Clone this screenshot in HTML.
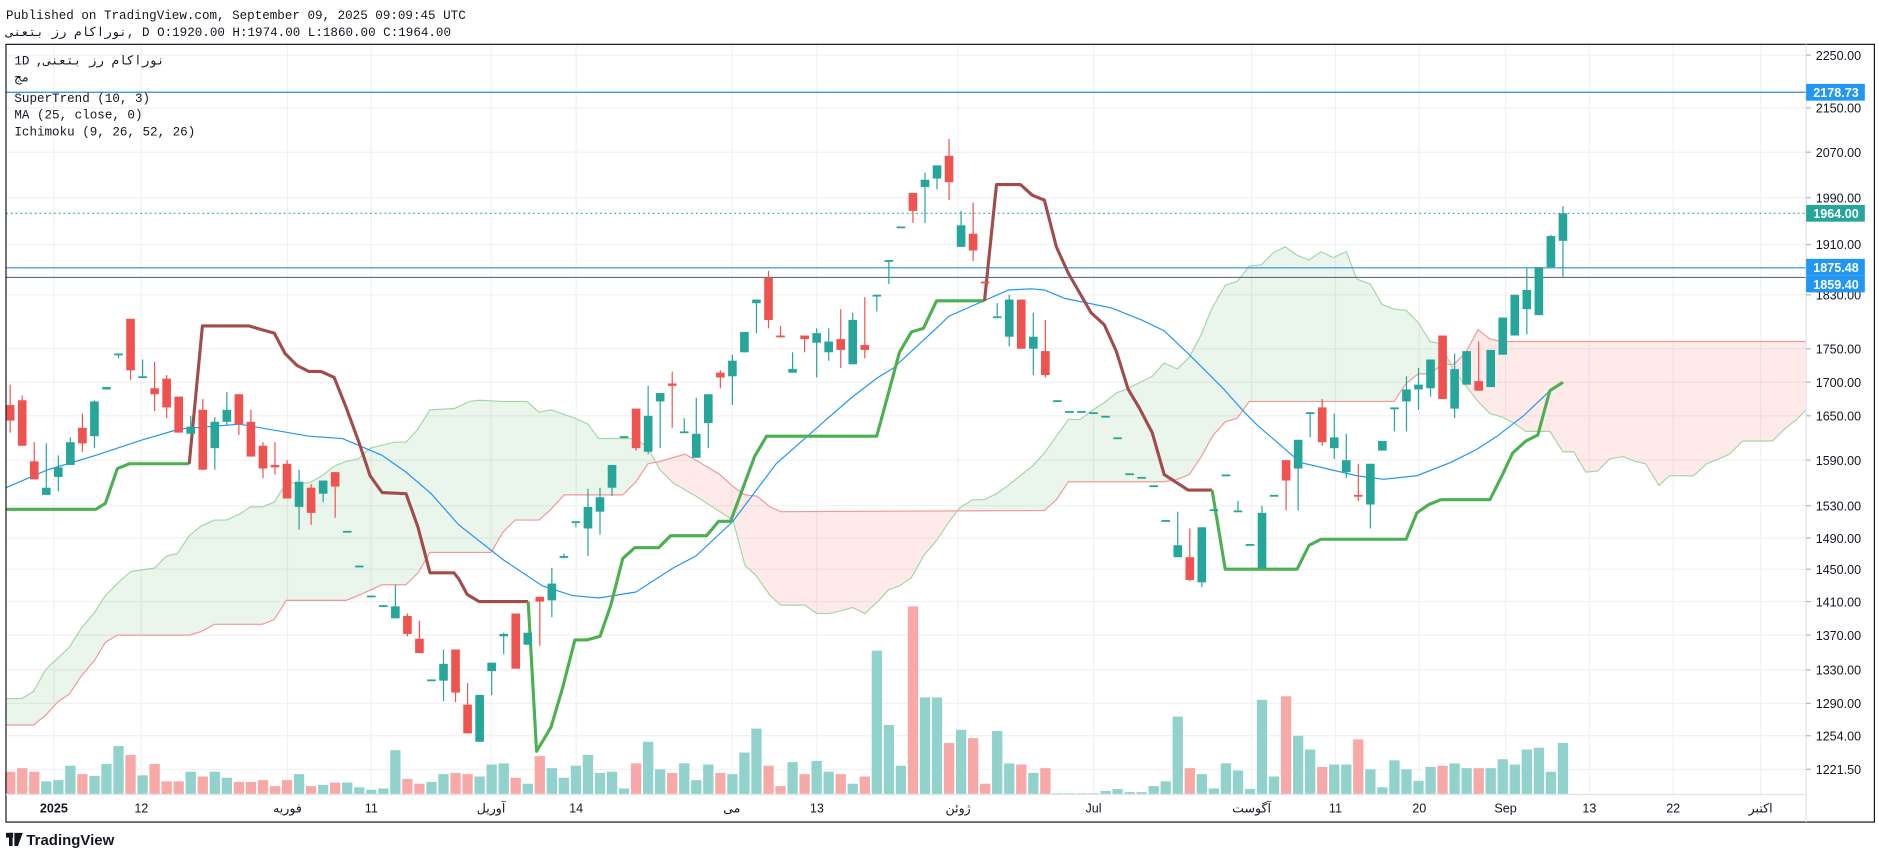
<!DOCTYPE html>
<html><head><meta charset="utf-8"><style>
html,body{margin:0;padding:0;background:#fff;width:1878px;height:858px;overflow:hidden}
svg{display:block}
.t{font-family:"Liberation Mono","DejaVu Sans Mono",monospace;font-size:10.5px;fill:#131722}
.ax{font-family:"Liberation Sans","DejaVu Sans",sans-serif;font-size:10.5px;fill:#131722}
.lb{font-family:"Liberation Sans","DejaVu Sans",sans-serif;font-size:10.5px;fill:#fff;font-weight:bold}
</style></head><body>
<svg id="s" width="1878" height="858" viewBox="0 0 1568 716" preserveAspectRatio="none" xmlns="http://www.w3.org/2000/svg">
<defs>
<clipPath id="above"><polygon points="5,605 28,605 38,597 48,586 58,579 68,564 79,551 88,536 98,530 158,530 168,527 179,521 219,521 229,517 239,501 289,501 299,497 319,488 339,488 349,478 359,461 410,461 420,444 430,434 450,434 460,425 471,413 520,413 531,402 541,387 551,385 572,379 581,384 601,396 612,406 622,413 632,414 643,423 652,427 872,426 882,417 892,402 972,402 983,400 993,396 1003,381 1013,363 1023,352 1033,349 1043,335 1164,335 1174,320 1184,312 1194,312 1204,304 1214,304 1224,294 1234,275 1244,283 1254,285 1508,285 1508,0 5,0"/></clipPath>
<clipPath id="below"><polygon points="5,605 28,605 38,597 48,586 58,579 68,564 79,551 88,536 98,530 158,530 168,527 179,521 219,521 229,517 239,501 289,501 299,497 319,488 339,488 349,478 359,461 410,461 420,444 430,434 450,434 460,425 471,413 520,413 531,402 541,387 551,385 572,379 581,384 601,396 612,406 622,413 632,414 643,423 652,427 872,426 882,417 892,402 972,402 983,400 993,396 1003,381 1013,363 1023,352 1033,349 1043,335 1164,335 1174,320 1184,312 1194,312 1204,304 1214,304 1224,294 1234,275 1244,283 1254,285 1508,285 1508,700 5,700"/></clipPath>
</defs>
<text class="t" x="5" y="16">Published on TradingView.com, September 09, 2025 09:09:45 UTC</text>
<text class="t" x="5" y="30">نوراکام رز بتعنی, D O:1920.00 H:1974.00 L:1860.00 C:1964.00</text>
<g id="grid" stroke="#f0f1f3" stroke-width="1"></g>
<g id="cloud"></g>
<g id="vol"></g>
<line x1="5" y1="77" x2="1508" y2="77" stroke="#2a8de0" stroke-width="1"/>
<line x1="5" y1="178" x2="1508" y2="178" stroke="#26a69a" stroke-width="1" stroke-dasharray="1.5,2.5"/>
<line x1="5" y1="223.5" x2="1508" y2="223.5" stroke="#2a8de0" stroke-width="1"/>
<line x1="5" y1="231.5" x2="1508" y2="231.5" stroke="#5a6f86" stroke-width="1"/>
<polyline fill="none" stroke="#2196f3" stroke-width="1" points="5,407 40,392 80,380 119,367 150,358 200,354 258,364 286,366 319,380 339,394 360,412 383,438 420,467 453,489 478,497 500,499 531,494 562,474 581,464 612,435 648,387 690,350 712,331 733,315 746,307 785,271 792,264 842,242 861,241 872,242 889,249 928,257 953,267 972,276 994,297 1022,325 1039,344 1050,355 1072,374 1086,386 1133,397 1155,400 1183,397 1211,386 1233,375 1250,364 1272,347 1292,328 1304,319"/>
<g fill="none" stroke-width="2.6" stroke-linejoin="round">
<polyline stroke="#4caf50" points="5,425 80,425 88,420 98,391 108,387 158,387"/>
<polyline stroke="#a04c4c" points="158,387 169,272 208,272 218,275 229,278 238,295 248,305 258,310 268,310 279,315 289,340 300,370 309,397 319,411 339,412 349,440 359,478 379,478 383,483 390,496 400,502 441,502"/>
<polyline stroke="#4caf50" points="441,502 448,627 460,607 470,573 480,534 490,534 501,531 510,505 520,466 530,457 550,457 560,447 590,447 600,435 610,435 620,408 630,381 640,364 732,364 741,331 751,294 761,277 771,274 782,251 822,251"/>
<polyline stroke="#a04c4c" points="822,251 832,154 852,154 862,163 872,167 882,206 892,228 911,261 922,271 932,293 942,325 951,340 962,361 972,396 992,409 1012,409"/>
<polyline stroke="#4caf50" points="1012,409 1023,475 1083,475 1093,455 1103,450 1174,450 1183,428 1193,421 1203,417 1244,417 1254,397 1263,378 1274,368 1284,363 1294,326 1305,319"/>
</g>
<g id="cdl"></g>
<rect x="5" y="37" width="1560" height="649" fill="none" stroke="#131722" stroke-width="1"/>
<line x1="1508" y1="37" x2="1508" y2="686" stroke="#e0e3eb"/>
<line x1="5" y1="663" x2="1508" y2="663" stroke="#e0e3eb"/>
<g id="yax"></g>
<rect x="1508" y="70" width="49" height="14" fill="#2196f3"/><text class="lb" x="1514" y="81">2178.73</text>
<rect x="1508" y="171" width="49" height="14" fill="#26a69a"/><text class="lb" x="1514" y="182">1964.00</text>
<rect x="1508" y="216" width="49" height="14" fill="#2196f3"/><text class="lb" x="1514" y="227">1875.48</text>
<rect x="1508" y="230" width="49" height="14" fill="#2196f3"/><text class="lb" x="1514" y="241">1859.40</text>
<g class="ax" text-anchor="middle">
<text x="45" y="678" font-weight="bold">2025</text><text x="118" y="678">12</text><text x="240" y="678">فوریه</text><text x="310" y="678">11</text><text x="410" y="678">آوریل</text><text x="481" y="678">14</text><text x="611" y="678">می</text><text x="682" y="678">13</text><text x="800" y="678">ژوئن</text><text x="913" y="678">Jul</text><text x="1045" y="678">آگوست</text><text x="1115" y="678">11</text><text x="1185" y="678">20</text><text x="1257" y="678">Sep</text><text x="1327" y="678">13</text><text x="1397" y="678">22</text><text x="1470" y="678">اکتبر</text>
</g>
<g class="t">
<text x="12" y="54">1D</text>
<text x="30" y="54">,نوراکام رز بتعنی</text>
<text x="12" y="68">مج</text>
<text x="12" y="85">SuperTrend (10, 3)</text>
<text x="12" y="99">MA (25, close, 0)</text>
<text x="12" y="113">Ichimoku (9, 26, 52, 26)</text>
</g>
<rect x="5" y="695" width="6" height="4" fill="#131722"/><rect x="7.5" y="695" width="3" height="11" fill="#131722"/>
<polygon points="12,695 19,695 15,706 12,706" fill="#131722"/>
<text x="22" y="705" font-family="Liberation Sans,sans-serif" font-size="12.5" font-weight="bold" fill="#131722">TradingView</text>
</svg>
<script>
var NS="http://www.w3.org/2000/svg";
function el(p,t,a){var e=document.createElementNS(NS,t);for(var k in a)e.setAttribute(k,a[k]);p.appendChild(e);return e;}
var g=document.getElementById("grid");
[46,90,127,165,204,246,291,319,347,384,422,449,475,502,530,559,587,614,642].forEach(function(y){el(g,"line",{x1:5,y1:y,x2:1508,y2:y});});
[45,118,240,310,410,481,611,682,800,913,1045,1115,1185,1257,1327,1397,1470].forEach(function(x){el(g,"line",{x1:x,y1:37,x2:x,y2:663});});
var ya=document.getElementById("yax");
[["2250.00",46],["2150.00",90],["2070.00",127],["1990.00",165],["1910.00",204],["1830.00",246],["1750.00",291],["1700.00",319],["1650.00",347],["1590.00",384],["1530.00",422],["1490.00",449],["1450.00",475],["1410.00",502],["1370.00",530],["1330.00",559],["1290.00",587],["1254.00",614],["1221.50",642]].forEach(function(a){
el(ya,"line",{x1:1508,y1:a[1],x2:1512,y2:a[1],stroke:"#b2b5be"});
var t=el(ya,"text",{x:1516,y:a[1]+4,"class":"ax"});t.textContent=a[0];});
var A="5,583 18,583 28,577 38,559 58,540 68,524 79,511 88,497 100,485 109,477 129,474 139,464 148,462 158,447 168,439 179,434 189,434 200,429 209,423 219,423 229,419 239,403 258,403 269,397 279,389 289,385 299,383 309,374 329,369 339,369 349,358 359,342 379,341 392,335 400,334 420,335 440,335 450,344 460,342 480,349 491,354 500,366 531,366 541,374 551,392 562,403 581,414 601,427 612,434 622,472 631,480 643,497 652,505 672,505 682,512 693,512 712,507 722,512 733,502 742,492 751,489 761,482 771,464 782,451 792,436 801,424 812,417 822,417 832,412 842,405 853,396 862,389 872,378 882,364 892,350 902,350 911,343 922,336 932,328 942,324 952,319 962,314 972,303 983,308 993,298 1003,279 1012,257 1023,238 1033,235 1043,222 1053,221 1063,211 1073,206 1083,213 1093,217 1103,210 1113,215 1124,210 1133,233 1144,237 1154,254 1164,258 1174,259 1184,269 1194,285 1203,287 1214,310 1224,322 1234,335 1244,345 1254,348 1264,353 1274,360 1294,360 1305,377 1314,377 1324,394 1334,393 1344,383 1355,381 1365,385 1374,387 1385,405 1394,397 1414,397 1425,387 1435,383 1444,379 1455,368 1470,368 1480,368 1490,358 1500,350 1508,342";
var B="5,605 28,605 38,597 48,586 58,579 68,564 79,551 88,536 98,530 158,530 168,527 179,521 219,521 229,517 239,501 289,501 299,497 319,488 339,488 349,478 359,461 410,461 420,444 430,434 450,434 460,425 471,413 520,413 531,402 541,387 551,385 572,379 581,384 601,396 612,406 622,413 632,414 643,423 652,427 872,426 882,417 892,402 972,402 983,400 993,396 1003,381 1013,363 1023,352 1033,349 1043,335 1164,335 1174,320 1184,312 1194,312 1204,304 1214,304 1224,294 1234,275 1244,283 1254,285 1508,285";
var poly=A+" "+B.split(" ").reverse().join(" ");
var cl=document.getElementById("cloud");
el(cl,"polygon",{points:poly,fill:"rgba(67,160,71,0.11)","clip-path":"url(#above)"});
el(cl,"polygon",{points:poly,fill:"rgba(244,67,54,0.11)","clip-path":"url(#below)"});
el(cl,"polyline",{points:A,fill:"none",stroke:"#a5d6a7","stroke-width":1});
el(cl,"polyline",{points:B,fill:"none",stroke:"#ef9a9a","stroke-width":1});
var C=[["r",338,351,321,361],["r",334,372,330,372],["r",385,400,369,400],["g",407,413,370,413],["g",390,398,380,410],["g",369,388,365,388],["r",357,370,345,377],["g",335,364,334,374],["g",323,325,323,325],["g",295,296,295,299],["r",266,309,266,317],["g",314,315,300,315],["r",324,329,302,343],["r",316,340,313,349],["r",331,361,331,361],["g",356,362,347,362],["r",342,392,333,392],["g",352,374,348,392],["g",342,352,327,355],["r",329,354,329,363],["r",352,381,342,381],["r",372,391,369,399],["r",388,390,369,396],["r",387,416,384,416],["g",402,423,392,442],["r",407,428,404,438],["g",401,412,401,419],["r",394,406,394,432],["g",443,444,443,444],["g",472,473,472,473],["g",497,498,497,498],["g",505,506,505,506],["g",506,516,488,516],["r",514,529,512,531],["r",533,545,518,545],["g",567,568,567,568],["g",554,568,542,585],["r",542,578,542,586],["r",588,612,570,612],["g",580,619,580,619],["g",553,560,553,580],["g",529,531,528,546],["r",512,558,512,558],["g",528,538,528,538],["r",498,502,498,539],["g",487,501,474,515],["g",464,465,462,466],["g",435,436,435,440],["g",423,441,408,464],["g",415,427,407,446],["g",388,407,388,414],["g",364,365,364,365],["r",341,374,341,376],["g",347,377,322,379],["g",328,335,328,374],["r",320,322,310,357],["g",360,361,349,361],["g",362,382,332,382],["g",329,353,329,374],["r",311,315,309,324],["g",301,314,296,338],["g",277,294,277,294],["g",250,253,250,278],["r",232,267,226,274],["r",280,281,272,281],["g",308,311,294,311],["r",280,283,280,294],["g",278,286,274,315],["g",285,294,274,301],["r",283,292,258,307],["g",267,304,261,304],["r",288,292,248,299],["g",246,247,246,260],["g",217,218,217,237],["g",189,190,189,190],["r",161,176,161,186],["g",150,156,144,186],["g",138,149,138,158],["r",130,152,116,167],["g",188,206,176,206],["r",195,209,169,218],["r",235,236,235,236],["g",264,265,253,265],["g",250,281,246,289],["r",250,291,250,291],["g",281,291,261,313],["r",293,313,267,315],["g",334,335,334,335],["g",343,344,343,344],["g",343,344,343,344],["g",344,345,344,345],["g",347,348,347,348],["g",365,366,365,366],["g",395,396,395,396],["g",398,399,398,399],["g",405,406,405,406],["g",434,435,434,435],["g",455,465,427,465],["r",465,484,441,485],["g",440,486,440,490],["g",425,426,425,426],["g",396,397,396,397],["g",426,427,418,427],["g",454,455,454,455],["g",428,474,422,474],["g",413,414,413,414],["r",384,401,384,426],["g",367,391,367,426],["g",344,345,344,365],["r",340,369,333,372],["g",365,374,345,383],["g",384,394,362,399],["r",413,414,387,418],["g",387,421,387,441],["g",368,376,368,376],["g",340,341,340,360],["g",325,335,314,360],["g",321,325,307,342],["g",300,324,300,331],["r",280,333,280,333],["g",308,341,295,349],["g",293,321,293,321],["r",318,326,285,326],["g",292,323,292,323],["g",265,296,265,296],["g",246,280,246,280],["g",242,258,224,279],["g",223,263,223,263],["g",197,223,196,223],["g",178,201,172,231]];
var V=[644,641,644,652,651,639,646,647.5,637.5,622.5,630,647,637.5,652,652,644,648,644,649,652.5,652.5,651,656,651,646,656,655,653,653,657,659,658,626,650,654,652.5,646,645,
646,648,638,637,649,654,631,641,649,639,630,645,644,658,637,619,642,645,637,651,638,645,646,628,608,639,656,636,646,635,644,646,654,648,543,605,639,506,582,582,
620,609,616,654,610,637,638,645,641,662,662,662,662,660,658.5,661,661,656,652,598,641,646,658,637,643,658.5,584,648,581,614,625.5,640,638,638,617,642,657,634.5,642,651.6,640,639,637,641,641,641,633.6,638,625.5,624,644,620];
var vg=document.getElementById("vol"),cg=document.getElementById("cdl");
C.forEach(function(c,i){
var x=8.5+i*10.05,col=c[0]=="g"?"#26a69a":"#ef5350",vc=c[0]=="g"?"#92d2cc":"#f7a9a7";
var vt=V[i]||655;el(vg,"rect",{x:x-4.3,y:vt,width:8.6,height:662.5-vt,fill:vc});
el(cg,"line",{x1:x,y1:c[3],x2:x,y2:c[4],stroke:col,"stroke-width":1});
var h=Math.max(c[2]-c[1],1.5);el(cg,"rect",{x:x-3.6,y:c[1],width:7.2,height:h,fill:col});
});
</script>
</body></html>
